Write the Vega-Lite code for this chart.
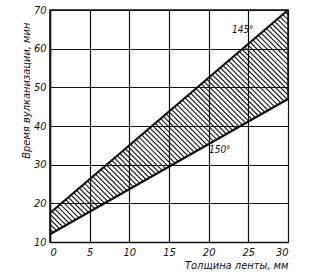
{
  "$schema": "https://vega.github.io/schema/vega-lite/v6.json",
  "width": 238,
  "height": 232,
  "autosize": {"type": "none"},
  "padding": {"left": 50, "top": 10, "right": 24, "bottom": 33},
  "background": "white",
  "config": {
    "view": {"stroke": "#111", "strokeWidth": 1.5},
    "font": "DejaVu Sans Condensed, Liberation Sans",
    "axis": {
      "labelFont": "DejaVu Sans Condensed, Liberation Sans",
      "labelFontStyle": "italic",
      "labelFontSize": 11,
      "labelColor": "#111",
      "titleFont": "DejaVu Sans Condensed, Liberation Sans",
      "titleFontStyle": "italic",
      "titleFontWeight": "normal",
      "titleFontSize": 11,
      "titleColor": "#111",
      "ticks": false,
      "domainColor": "#111",
      "domainWidth": 1.5,
      "gridColor": "#111",
      "gridOpacity": 1,
      "gridWidth": 1.2
    }
  },
  "datasets": {
    "bounds": [
      {"thickness": 0, "upper": 17.5, "lower": 12},
      {"thickness": 30, "upper": 70, "lower": 47}
    ],
    "hatch": [
      {"a": 13.3, "b": -48.2}, {"a": 14.6, "b": -46.9}, {"a": 15.9, "b": -45.6}, {"a": 17.2, "b": -44.3},
      {"a": 18.5, "b": -43}, {"a": 19.8, "b": -41.7}, {"a": 21.1, "b": -40.4}, {"a": 22.4, "b": -39.1},
      {"a": 23.7, "b": -37.8}, {"a": 25, "b": -36.5}, {"a": 26.3, "b": -35.2}, {"a": 27.6, "b": -33.9},
      {"a": 28.9, "b": -32.6}, {"a": 30.2, "b": -31.3}, {"a": 31.5, "b": -30}, {"a": 32.8, "b": -28.7},
      {"a": 34.1, "b": -27.4}, {"a": 35.4, "b": -26.1}, {"a": 36.7, "b": -24.8}, {"a": 38, "b": -23.5},
      {"a": 39.3, "b": -22.2}, {"a": 40.6, "b": -20.9}, {"a": 41.9, "b": -19.6}, {"a": 43.2, "b": -18.3},
      {"a": 44.5, "b": -17}, {"a": 45.8, "b": -15.7}, {"a": 47.1, "b": -14.4}, {"a": 48.4, "b": -13.1},
      {"a": 49.7, "b": -11.8}, {"a": 51, "b": -10.5}, {"a": 52.3, "b": -9.2}, {"a": 53.6, "b": -7.9},
      {"a": 54.9, "b": -6.6}, {"a": 56.2, "b": -5.3}, {"a": 57.5, "b": -4}, {"a": 58.8, "b": -2.7},
      {"a": 60.1, "b": -1.4}, {"a": 61.4, "b": -0.1}, {"a": 62.7, "b": 1.2}, {"a": 64, "b": 2.5},
      {"a": 65.3, "b": 3.8}, {"a": 66.6, "b": 5.1}, {"a": 67.9, "b": 6.4}, {"a": 69.2, "b": 7.7},
      {"a": 70.5, "b": 9}, {"a": 71.8, "b": 10.3}, {"a": 73.1, "b": 11.6}, {"a": 74.4, "b": 12.9},
      {"a": 75.7, "b": 14.2}, {"a": 77, "b": 15.5}, {"a": 78.3, "b": 16.8}, {"a": 79.6, "b": 18.1},
      {"a": 80.9, "b": 19.4}, {"a": 82.2, "b": 20.7}, {"a": 83.5, "b": 22}, {"a": 84.8, "b": 23.3},
      {"a": 86.1, "b": 24.6}, {"a": 87.4, "b": 25.9}, {"a": 88.7, "b": 27.2}, {"a": 90, "b": 28.5},
      {"a": 91.3, "b": 29.8}, {"a": 92.6, "b": 31.1}, {"a": 93.9, "b": 32.4}, {"a": 95.2, "b": 33.7},
      {"a": 96.5, "b": 35}, {"a": 97.8, "b": 36.3}, {"a": 99.1, "b": 37.6}, {"a": 100.4, "b": 38.9},
      {"a": 101.7, "b": 40.2}, {"a": 103, "b": 41.5}, {"a": 104.3, "b": 42.8}, {"a": 105.6, "b": 44.1},
      {"a": 106.9, "b": 45.4}, {"a": 108.2, "b": 46.7}, {"a": 109.5, "b": 48}, {"a": 110.8, "b": 49.3},
      {"a": 112.1, "b": 50.6}, {"a": 113.4, "b": 51.9}, {"a": 114.7, "b": 53.2}, {"a": 116, "b": 54.5},
      {"a": 117.3, "b": 55.8}, {"a": 118.6, "b": 57.1}, {"a": 119.9, "b": 58.4}, {"a": 121.2, "b": 59.7},
      {"a": 122.5, "b": 61}, {"a": 123.8, "b": 62.3}, {"a": 125.1, "b": 63.6}, {"a": 126.4, "b": 64.9},
      {"a": 127.7, "b": 66.2}, {"a": 129, "b": 67.5}, {"a": 130.3, "b": 68.8}
    ],
    "labels": [
      {"thickness": 24.3, "time": 64.8, "text": "145°"},
      {"thickness": 21.4, "time": 33.8, "text": "150°"}
    ]
  },
  "encoding": {
    "x": {"type": "quantitative",
      "scale": {"domain": [0, 30], "nice": false},
      "axis": {"values": [0, 5, 10, 15, 20, 25, 30], "grid": true, "zindex": 1, "title": "Толщина ленты, мм", "titleAnchor": "end", "labelPadding": 4, "titlePadding": 2, "labelAngle": 0}},
    "y": {"type": "quantitative",
      "scale": {"domain": [10, 70], "nice": false, "zero": false},
      "axis": {"values": [10, 20, 30, 40, 50, 60, 70], "grid": true, "zindex": 1, "title": "Время вулканизации, мин", "titleAnchor": "end", "titleY": 12, "labelPadding": 4, "titlePadding": 2}}
  },
  "layer": [
    {
      "data": {"name": "hatch"},
      "mark": {"type": "rule", "clip": true, "color": "#111", "strokeWidth": 1.1},
      "encoding": {
        "x": {"datum": 0},
        "y": {"field": "a"},
        "x2": {"datum": 30},
        "y2": {"field": "b"}
      }
    },
    {
      "data": {"name": "bounds"},
      "mark": {"type": "area", "color": "white", "clip": true},
      "encoding": {
        "x": {"field": "thickness"},
        "y": {"field": "upper"},
        "y2": {"datum": 70}
      }
    },
    {
      "data": {"name": "bounds"},
      "mark": {"type": "area", "color": "white", "clip": true},
      "encoding": {
        "x": {"field": "thickness"},
        "y": {"field": "lower"},
        "y2": {"datum": 10}
      }
    },
    {
      "data": {"name": "bounds"},
      "mark": {"type": "line", "color": "#111", "strokeWidth": 2.2},
      "encoding": {
        "x": {"field": "thickness"},
        "y": {"field": "upper"}
      }
    },
    {
      "data": {"name": "bounds"},
      "mark": {"type": "line", "color": "#111", "strokeWidth": 2.2},
      "encoding": {
        "x": {"field": "thickness"},
        "y": {"field": "lower"}
      }
    },
    {
      "data": {"name": "labels"},
      "mark": {"type": "text", "font": "DejaVu Sans Condensed, Liberation Sans", "fontStyle": "italic", "fontSize": 10, "color": "#111"},
      "encoding": {
        "x": {"field": "thickness"},
        "y": {"field": "time"},
        "text": {"field": "text", "type": "nominal"}
      }
    }
  ]
}
